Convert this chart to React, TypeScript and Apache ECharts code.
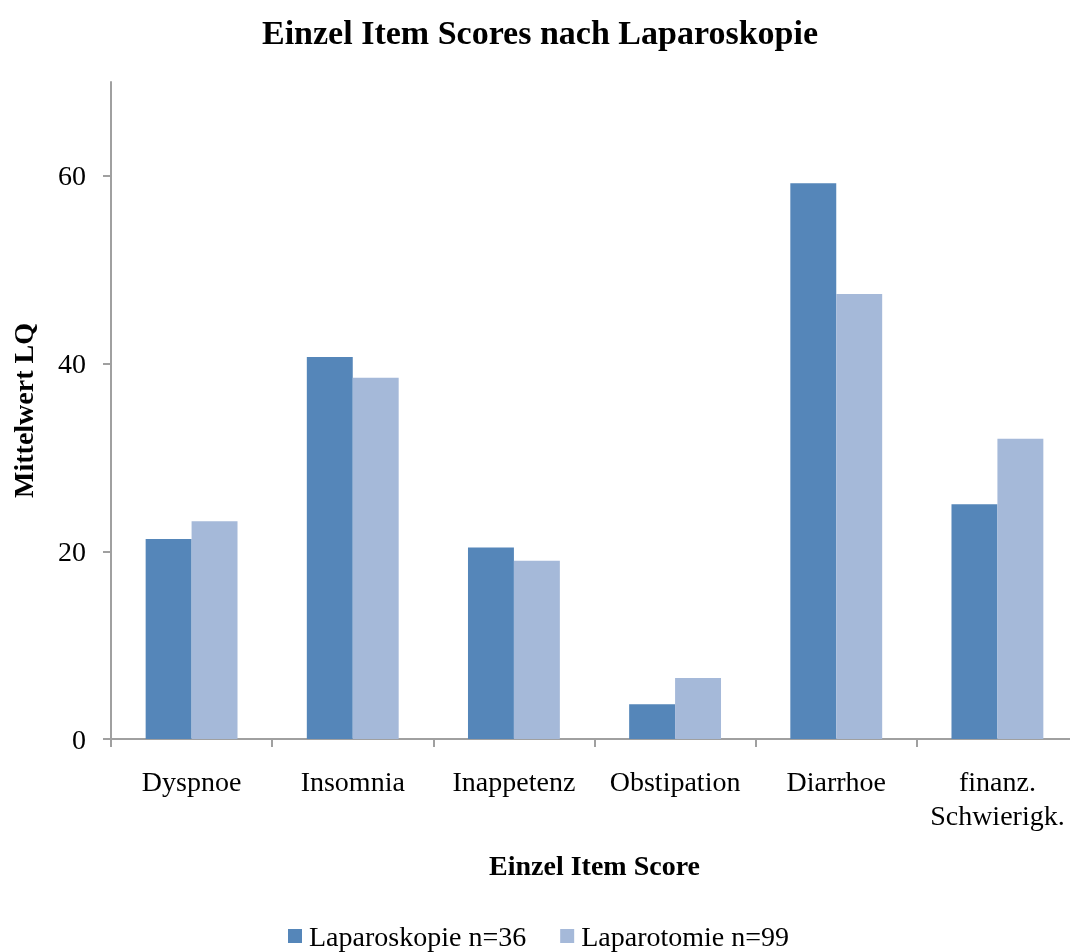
import React, { useEffect, useRef } from "react";
import * as echarts from "echarts";

const categories = ["Dyspnoe", "Insomnia", "Inappetenz", "Obstipation", "Diarrhoe", "finanz.\nSchwierigk."];
const laparoskopie = [21.3, 40.7, 20.4, 3.7, 59.2, 25.0];
const laparotomie = [23.2, 38.5, 19.0, 6.5, 47.4, 32.0];
const yTicks = [0, 20, 40, 60];

const FONT = "'Liberation Serif', serif";

export default function App() {
  const ref = useRef<HTMLDivElement>(null);
  useEffect(() => {
    if (!ref.current) return;
    const chart = echarts.init(ref.current, null, { renderer: "svg" });
    chart.setOption({
      animation: false,
      textStyle: { fontFamily: FONT },
      title: {
        text: "Einzel Item Scores nach Laparoskopie",
        left: 535,
        textAlign: "center",
        top: 10,
        textStyle: { fontFamily: FONT, fontWeight: "bold", fontSize: 34, color: "#000" },
      },
      legend: {
        top: 917,
        left: 283,
        itemWidth: 14,
        itemHeight: 14,
        itemGap: 34,
        icon: "rect",
        textStyle: { fontFamily: FONT, fontSize: 28, color: "#000", padding: [0, 0, 0, 2] },
        data: ["Laparoskopie n=36", "Laparotomie n=99"],
      },
      grid: { left: 111, top: 82, width: 967, height: 657, containLabel: false },
      xAxis: {
        type: "category",
        data: categories,
        name: "Einzel Item Score",
        nameLocation: "middle",
        nameGap: 112,
        nameTextStyle: { fontFamily: FONT, fontWeight: "bold", fontSize: 28, color: "#000" },
        axisLine: { lineStyle: { color: "#a0a0a0", width: 2 } },
        axisTick: { show: true, interval: 0, length: 8, inside: false, lineStyle: { color: "#a0a0a0", width: 2 } },
        axisLabel: { interval: 0, fontFamily: FONT, fontSize: 28, color: "#000", margin: 25, lineHeight: 34 },
      },
      yAxis: {
        type: "value",
        min: 0,
        max: 70,
        interval: 10,
        name: "Mittelwert LQ",
        nameLocation: "middle",
        nameGap: 74,
        nameRotate: 90,
        nameTextStyle: { fontFamily: FONT, fontWeight: "bold", fontSize: 28, color: "#000" },
        splitLine: { show: false },
        axisLine: { show: true, lineStyle: { color: "#a0a0a0", width: 2 } },
        axisTick: { show: true, length: 8, customValues: yTicks, lineStyle: { color: "#a0a0a0", width: 2 } },
        axisLabel: { fontFamily: FONT, fontSize: 28, color: "#000", margin: 25, customValues: yTicks },
      },
      series: [
        {
          name: "Laparoskopie n=36",
          type: "bar",
          data: laparoskopie,
          barGap: "0%",
          barCategoryGap: "43%",
          itemStyle: { color: "#5586b9" },
        },
        {
          name: "Laparotomie n=99",
          type: "bar",
          data: laparotomie,
          barGap: "0%",
          barCategoryGap: "43%",
          itemStyle: { color: "#a5b9d9" },
        },
      ],
    });
    return () => chart.dispose();
  }, []);
  return (
    <div style={{ position: "fixed", left: 0, top: 0, width: 1070, height: 952, overflow: "hidden" }}>
      <div ref={ref} style={{ width: 1090, height: 952 }} />
    </div>
  );
}
